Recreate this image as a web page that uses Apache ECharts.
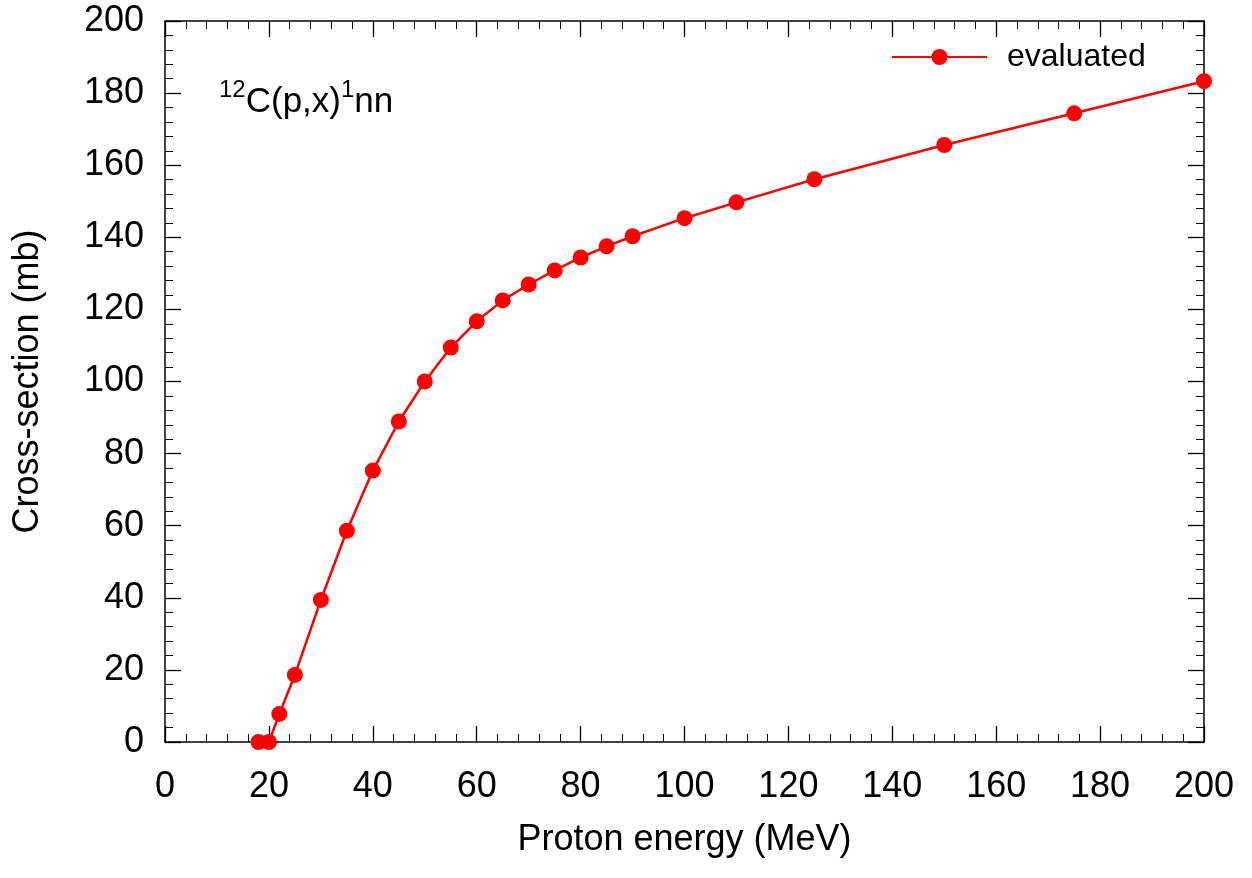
<!DOCTYPE html>
<html>
<head>
<meta charset="utf-8">
<script src="https://cdn.jsdelivr.net/npm/echarts@6/dist/echarts.min.js"></script>
<style>html,body{margin:0;padding:0;background:#fff;}#chart{width:1252px;height:878px;}</style>
</head>
<body>
<div id="chart"></div>
<script>
const energies = [18, 20, 22, 25, 30, 35, 40, 45, 50, 55, 60, 65, 70, 75, 80, 85, 90, 100, 110, 125, 150, 175, 200];
const xsEvaluated = [0, 0, 7.8, 18.6, 39.4, 58.6, 75.3, 88.9, 100, 109.4, 116.7, 122.5, 126.9, 130.8, 134.4, 137.5, 140.3, 145.3, 149.7, 156.1, 165.6, 174.4, 183.3];
const seriesName = 'evaluated';
const xTitle = 'Proton energy (MeV)';
const yTitle = 'Cross-section (mb)';

const FONT = '"Liberation Sans", Arial, sans-serif';
const chart = echarts.init(document.getElementById('chart'), null, {renderer: 'canvas'});
const tickCommon = {show: true, inside: true, length: 16, lineStyle: {color: '#000', width: 1.3}};
const minorCommon = {show: true, splitNumber: 5, length: 8, lineStyle: {color: '#000', width: 1}};
const lineCommon = {show: true, onZero: false, lineStyle: {color: '#000', width: 1.5}};
chart.setOption({
  backgroundColor: '#fff',
  animation: false,
  grid: {left: 165, right: 48, top: 21, bottom: 136, containLabel: false},
  legend: {
    data: [seriesName], left: 891, top: 41, padding: 0, itemWidth: 95, itemHeight: 20,
    textStyle: {fontFamily: FONT, fontSize: 32, color: '#000', padding: [0, 0, 0, 15]}
  },
  graphic: [{
    type: 'text', left: 219, top: 78,
    style: {
      text: '{sup|12}{n|C(p,x)}{sup|1}{n|nn}',
      rich: {
        sup: {fontFamily: FONT, fontSize: 24, color: '#000', verticalAlign: 'top', lineHeight: 42},
        n: {fontFamily: FONT, fontSize: 35, color: '#000', verticalAlign: 'bottom', lineHeight: 42}
      }
    }
  }],
  xAxis: [{
    type: 'value', min: 0, max: 200, interval: 20, position: 'bottom',
    name: xTitle, nameLocation: 'middle', nameGap: 80,
    nameTextStyle: {fontFamily: FONT, fontSize: 36, color: '#000'},
    axisLine: lineCommon, axisTick: tickCommon, minorTick: minorCommon,
    axisLabel: {fontFamily: FONT, fontSize: 36, color: '#000', margin: 27},
    splitLine: {show: false}
  }, {
    type: 'value', min: 0, max: 200, interval: 20, position: 'top',
    axisLine: lineCommon, axisTick: tickCommon, minorTick: minorCommon,
    axisLabel: {show: false}, splitLine: {show: false}
  }],
  yAxis: [{
    type: 'value', min: 0, max: 200, interval: 20, position: 'left',
    name: yTitle, nameLocation: 'middle', nameGap: 119,
    nameTextStyle: {fontFamily: FONT, fontSize: 36, color: '#000'},
    axisLine: lineCommon, axisTick: tickCommon, minorTick: minorCommon,
    axisLabel: {fontFamily: FONT, fontSize: 36, color: '#000', margin: 21},
    splitLine: {show: false}
  }, {
    type: 'value', min: 0, max: 200, interval: 20, position: 'right',
    axisLine: lineCommon, axisTick: tickCommon, minorTick: minorCommon,
    axisLabel: {show: false}, splitLine: {show: false}
  }],
  series: [{
    name: seriesName, type: 'line', xAxisIndex: 0, yAxisIndex: 0,
    data: energies.map((e, i) => [e, xsEvaluated[i]]),
    symbol: 'circle', symbolSize: 16, showSymbol: true, clip: false,
    lineStyle: {color: '#ff0000', width: 2.5},
    itemStyle: {color: '#ff0000'}
  }]
});
</script>
</body>
</html>
